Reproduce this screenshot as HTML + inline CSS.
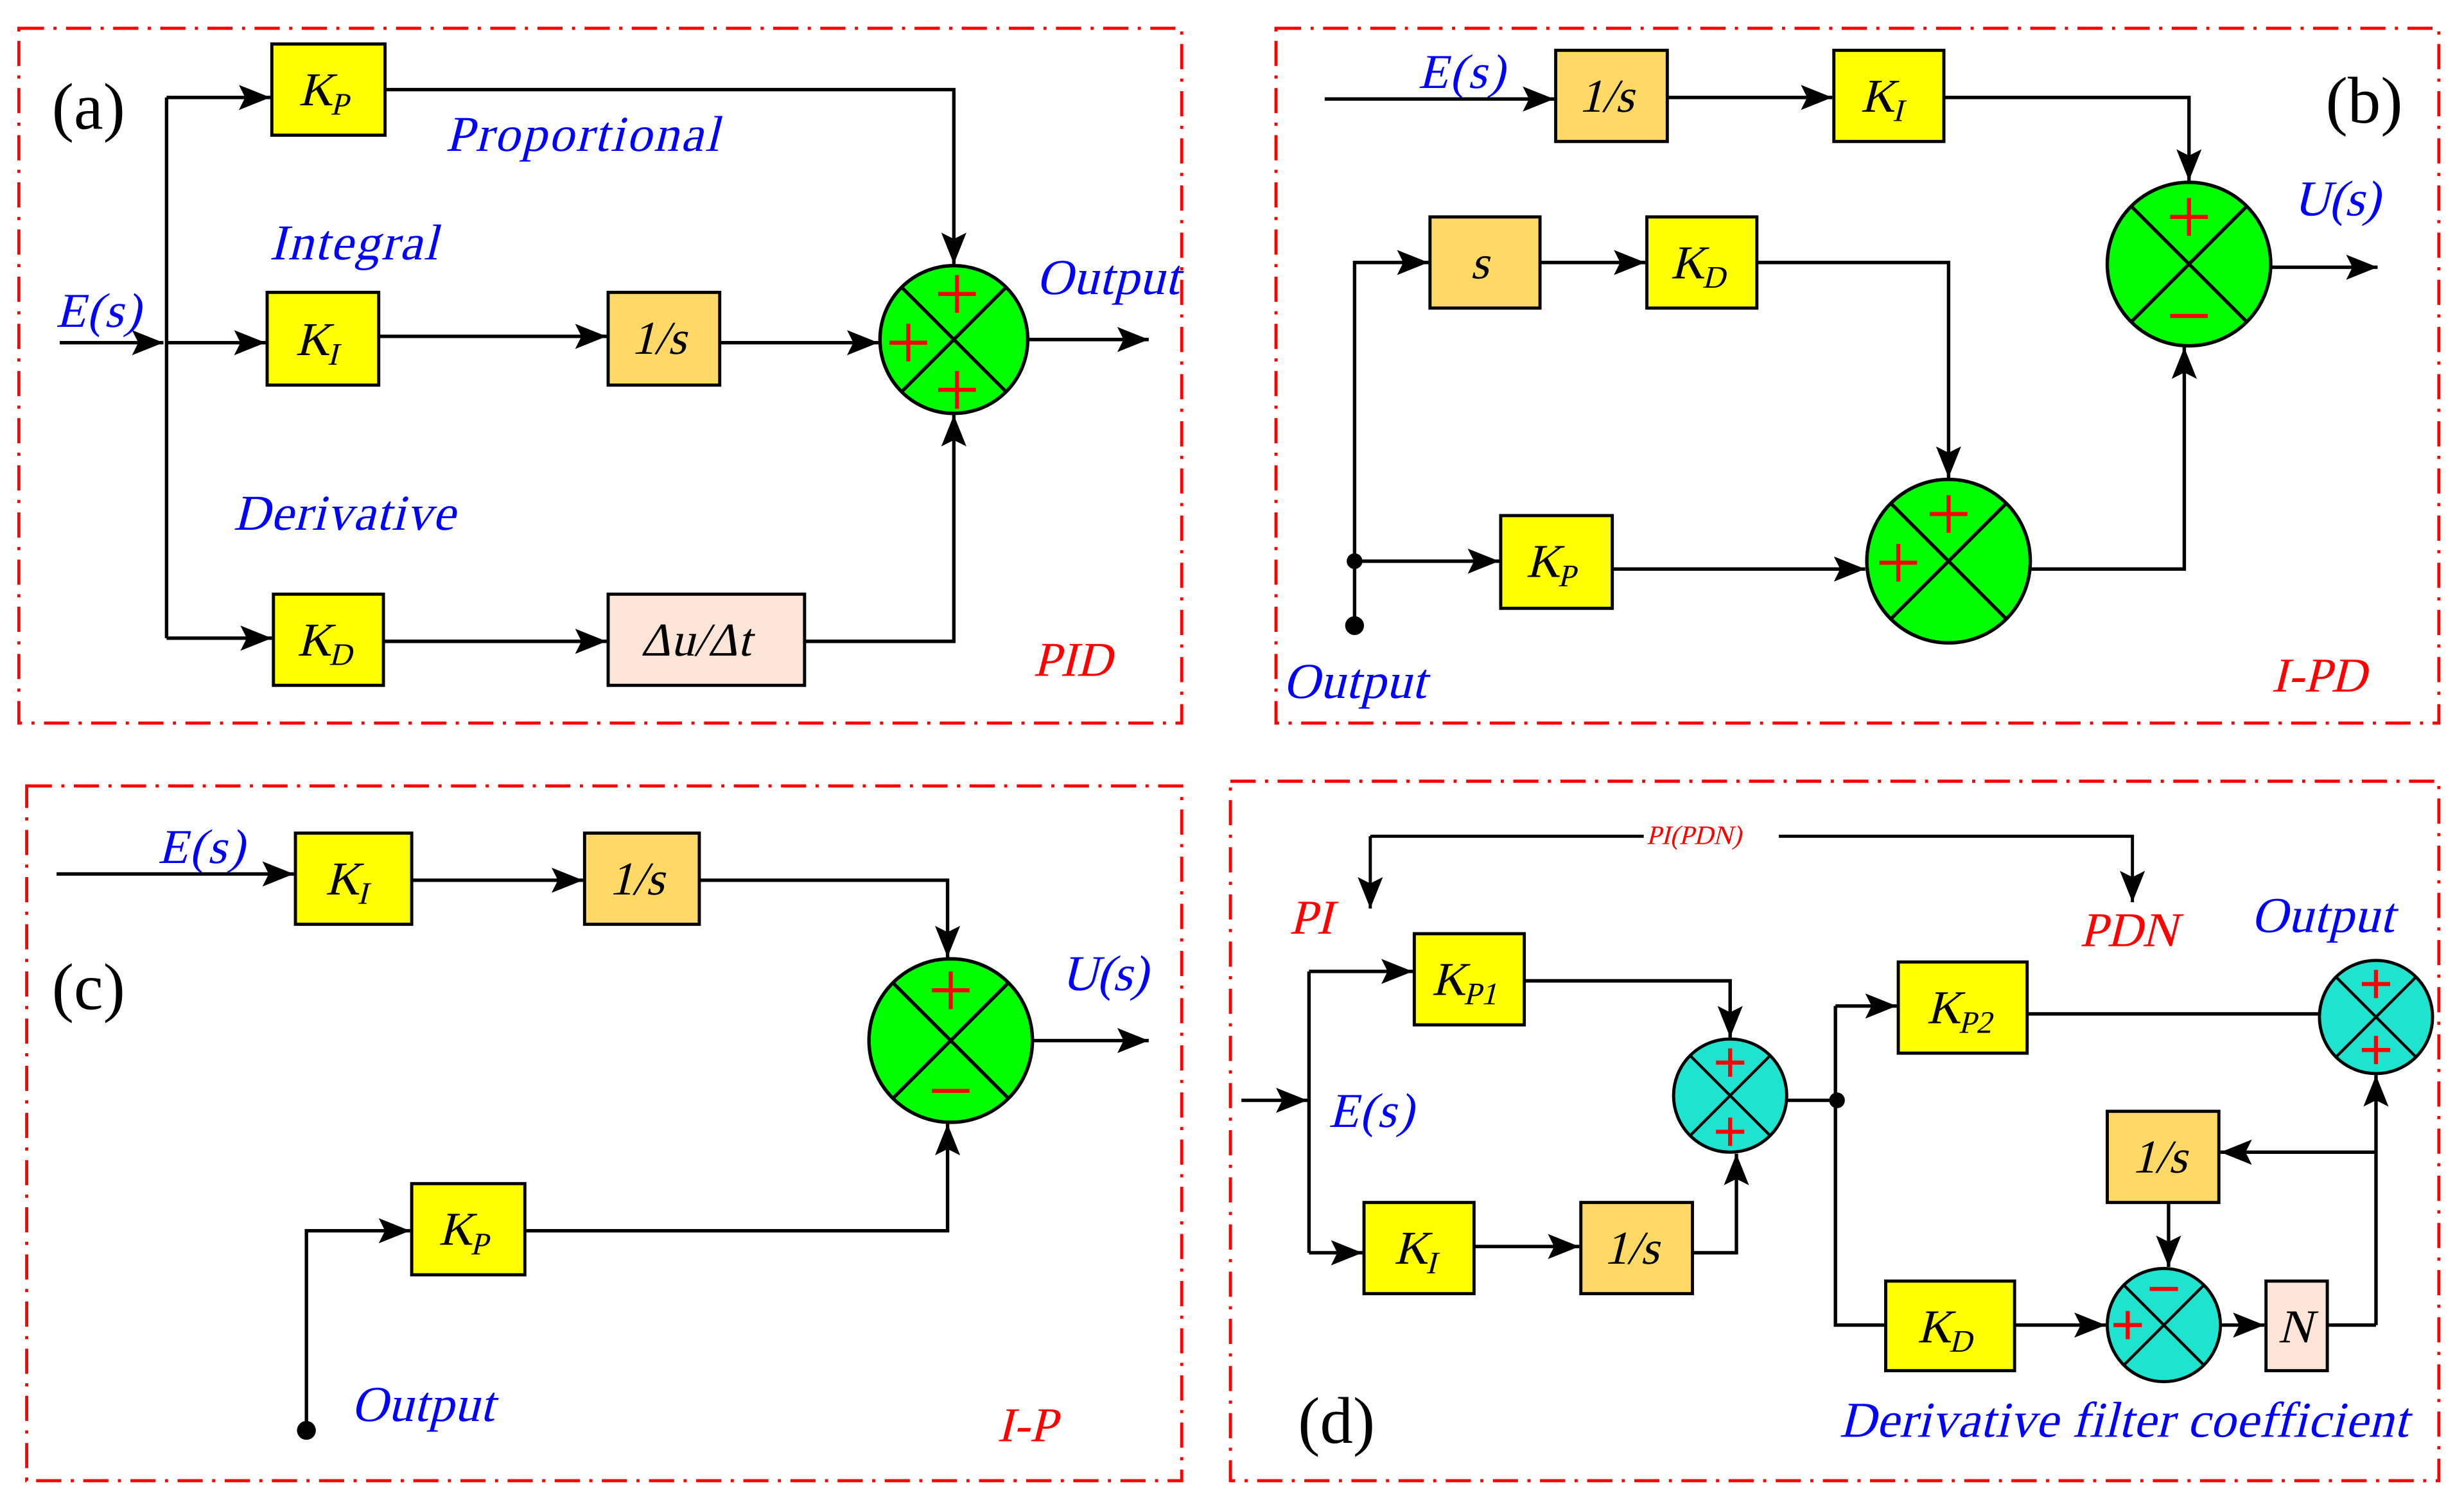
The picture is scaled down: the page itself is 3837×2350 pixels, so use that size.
<!DOCTYPE html>
<html><head><meta charset="utf-8"><style>
html,body{margin:0;padding:0;background:#fff}
svg{display:block}
text{font-family:"Liberation Serif","DejaVu Serif",serif;font-style:normal;transform-box:fill-box;transform-origin:center;transform:skewX(-14deg)}
text.n{transform:none}
.b{fill:#0000ff}.r{fill:#ff0000}
.l{stroke:#000;stroke-width:2.2;fill:none}
.bx{stroke:#000;stroke-width:2;}
.y{fill:#ffff00}.o{fill:#ffd966}.p{fill:#fce4d6}
.fr{fill:none;stroke:#ff0000;stroke-width:2;stroke-dasharray:16 6 2 6}
.g{fill:#00ff00;stroke:#000;stroke-width:2.2}
.c{fill:#1de3cf;stroke:#000;stroke-width:2}
.pm{stroke:#ff0000;stroke-width:2.6}
</style></head><body>
<svg width="3837" height="2350" viewBox="0 0 1568 960" preserveAspectRatio="none" xmlns="http://www.w3.org/2000/svg">
<defs>
<marker id="a" markerUnits="userSpaceOnUse" markerWidth="22" markerHeight="20" refX="20" refY="10" orient="auto">
<path d="M0,2 L20,10 L0,18 L4,10 z" fill="#000"/></marker>
</defs>
<rect width="1568" height="960" fill="#fff"/>
<rect class="fr" x="12" y="18" width="740" height="442"/>
<rect class="fr" x="812" y="18" width="740" height="442"/>
<rect class="fr" x="17" y="500" width="735" height="442"/>
<rect class="fr" x="783" y="497" width="769" height="445"/>

<!-- Panel (a) -->
<text class="n" x="33" y="82" font-size="42">(a)</text>
<path class="l" d="M38,218 L104,218" marker-end="url(#a)"/>
<path class="l" d="M106,62 L106,406"/>
<path class="l" d="M106,62 L172,62" marker-end="url(#a)"/>
<path class="l" d="M106,218 L169,218" marker-end="url(#a)"/>
<path class="l" d="M106,406 L173,406" marker-end="url(#a)"/>
<rect class="bx y" x="173" y="28" width="72" height="58"/>
<text x="192" y="67" font-size="30">K<tspan font-size="20" dy="6">P</tspan></text>
<rect class="bx y" x="170" y="186" width="71" height="59"/>
<text x="190" y="226" font-size="30">K<tspan font-size="20" dy="6">I</tspan></text>
<rect class="bx o" x="387" y="186" width="71" height="59"/>
<text x="404" y="225" font-size="30">1/s</text>
<rect class="bx y" x="174" y="378" width="70" height="58"/>
<text x="191" y="417" font-size="30">K<tspan font-size="20" dy="6">D</tspan></text>
<rect class="bx p" x="387" y="378" width="125" height="58"/>
<text x="410" y="417" font-size="30">Δu/Δt</text>
<path class="l" d="M241,214 L386,214" marker-end="url(#a)"/>
<path class="l" d="M458,218 L559,218" marker-end="url(#a)"/>
<path class="l" d="M244,408 L386,408" marker-end="url(#a)"/>
<path class="l" d="M245,57 L607,57 L607,168" marker-end="url(#a)"/>
<path class="l" d="M512,408 L607,408 L607,264" marker-end="url(#a)"/>
<circle class="g" cx="607" cy="216" r="47"/>
<path class="l" d="M574,183 L640,249 M640,183 L574,249"/>
<path class="pm" d="M597,187 h24 M609,175 v24 M566,218 h24 M578,206 v24 M597,248 h24 M609,236 v24"/>
<path class="l" d="M654,216 L731,216" marker-end="url(#a)"/>
<text x="38" y="208" font-size="31" class="b" textLength="54">E(s)</text>
<text x="286" y="96" font-size="32" class="b" textLength="174">Proportional</text>
<text x="174" y="165" font-size="32" class="b" textLength="107">Integral</text>
<text x="151" y="337" font-size="32" class="b" textLength="141">Derivative</text>
<text x="662" y="187" font-size="32" class="b" textLength="91">Output</text>
<text x="660" y="430" font-size="31" class="r">PID</text>

<!-- Panel (b) -->
<text class="n" x="1480" y="78" font-size="42">(b)</text>
<text x="905" y="56" font-size="31" class="b" textLength="55">E(s)</text>
<path class="l" d="M843,63 L989,63" marker-end="url(#a)"/>
<rect class="bx o" x="990" y="32" width="71" height="58"/>
<text x="1007" y="71" font-size="30">1/s</text>
<path class="l" d="M1061,62 L1166,62" marker-end="url(#a)"/>
<rect class="bx y" x="1167" y="32" width="70" height="58"/>
<text x="1186" y="71" font-size="30">K<tspan font-size="20" dy="6">I</tspan></text>
<path class="l" d="M1237,62 L1393,62 L1393,115" marker-end="url(#a)"/>
<circle class="g" cx="1393" cy="168" r="52"/>
<path class="l" d="M1356,131 L1430,205 M1430,131 L1356,205"/>
<path class="pm" d="M1381,138 h24 M1393,126 v24 M1381,201 h24"/>
<path class="l" d="M1445,170 L1513,170" marker-end="url(#a)"/>
<text x="1462" y="137" font-size="32" class="b" textLength="55">U(s)</text>
<rect class="bx o" x="910" y="138" width="70" height="58"/>
<text x="938" y="177" font-size="30">s</text>
<path class="l" d="M980,167 L1047,167" marker-end="url(#a)"/>
<rect class="bx y" x="1048" y="138" width="70" height="58"/>
<text x="1065" y="177" font-size="30">K<tspan font-size="20" dy="6">D</tspan></text>
<path class="l" d="M1118,167 L1240,167 L1240,304" marker-end="url(#a)"/>
<path class="l" d="M862,398 L862,167 L909,167" marker-end="url(#a)"/>
<circle cx="862" cy="357" r="5" fill="#000"/>
<circle cx="862" cy="398" r="6" fill="#000"/>
<path class="l" d="M862,357 L954,357" marker-end="url(#a)"/>
<rect class="bx y" x="955" y="328" width="71" height="59"/>
<text x="973" y="367" font-size="30">K<tspan font-size="20" dy="6">P</tspan></text>
<path class="l" d="M1026,362 L1187,362" marker-end="url(#a)"/>
<circle class="g" cx="1240" cy="357" r="52"/>
<path class="l" d="M1203,320 L1277,394 M1277,320 L1203,394"/>
<path class="pm" d="M1228,327 h24 M1240,315 v24 M1196,358 h24 M1208,346 v24"/>
<path class="l" d="M1292,362 L1390,362 L1390,221" marker-end="url(#a)"/>
<text x="819" y="444" font-size="32" class="b" textLength="91">Output</text>
<text x="1448" y="440" font-size="31" class="r">I-PD</text>

<!-- Panel (c) -->
<text class="n" x="33" y="642" font-size="42">(c)</text>
<text x="103" y="549" font-size="31" class="b" textLength="55">E(s)</text>
<path class="l" d="M36,556 L187,556" marker-end="url(#a)"/>
<rect class="bx y" x="188" y="530" width="74" height="58"/>
<text x="209" y="569" font-size="30">K<tspan font-size="20" dy="6">I</tspan></text>
<path class="l" d="M262,560 L371,560" marker-end="url(#a)"/>
<rect class="bx o" x="372" y="530" width="73" height="58"/>
<text x="390" y="569" font-size="30">1/s</text>
<path class="l" d="M445,560 L603,560 L603,609" marker-end="url(#a)"/>
<circle class="g" cx="605" cy="662" r="52"/>
<path class="l" d="M568,625 L642,699 M642,625 L568,699"/>
<path class="pm" d="M593,630 h24 M605,618 v24 M593,694 h24"/>
<path class="l" d="M658,662 L731,662" marker-end="url(#a)"/>
<text x="678" y="630" font-size="32" class="b" textLength="55">U(s)</text>
<rect class="bx y" x="262" y="753" width="72" height="58"/>
<text x="281" y="792" font-size="30">K<tspan font-size="20" dy="6">P</tspan></text>
<path class="l" d="M195,910 L195,783 L261,783" marker-end="url(#a)"/>
<circle cx="195" cy="910" r="6" fill="#000"/>
<path class="l" d="M334,783 L603,783 L603,715" marker-end="url(#a)"/>
<text x="226" y="904" font-size="32" class="b" textLength="91">Output</text>
<text x="637" y="917" font-size="31" class="r">I-P</text>

<!-- Panel (d) -->
<text class="n" x="826" y="918" font-size="42">(d)</text>
<path class="l" d="M872,532 L872,578" marker-end="url(#a)" style="stroke-width:2"/>
<path class="l" d="M872,532 L1357,532 L1357,574" marker-end="url(#a)" style="stroke-width:2"/>
<rect x="1046" y="522" width="86" height="18" fill="#fff"/>
<text x="1049" y="537" font-size="17" class="r">PI(PDN)</text>
<text x="823" y="594" font-size="31" class="r">PI</text>
<text x="1326" y="602" font-size="31" class="r">PDN</text>
<text x="1435" y="593" font-size="32" class="b" textLength="91">Output</text>
<text x="848" y="717" font-size="31" class="b" textLength="54">E(s)</text>
<path class="l" d="M790,700 L832,700" marker-end="url(#a)"/>
<path class="l" d="M833,618 L833,797"/>
<path class="l" d="M833,618 L899,618" marker-end="url(#a)"/>
<path class="l" d="M833,797 L867,797" marker-end="url(#a)"/>
<rect class="bx y" x="900" y="594" width="70" height="58"/>
<text x="913" y="633" font-size="30">K<tspan font-size="20" dy="6">P1</tspan></text>
<rect class="bx y" x="868" y="765" width="70" height="58"/>
<text x="889" y="804" font-size="30">K<tspan font-size="20" dy="6">I</tspan></text>
<path class="l" d="M938,793 L1005,793" marker-end="url(#a)"/>
<rect class="bx o" x="1006" y="765" width="71" height="58"/>
<text x="1023" y="804" font-size="30">1/s</text>
<path class="l" d="M970,624 L1101,624 L1101,660" marker-end="url(#a)"/>
<path class="l" d="M1077,797 L1105,797 L1105,734" marker-end="url(#a)"/>
<circle class="c" cx="1101" cy="697" r="36"/>
<path class="l" d="M1076,672 L1126,722 M1126,672 L1076,722" style="stroke-width:1.8"/>
<path class="pm" d="M1092,676 h18 M1101,667 v18 M1092,720 h18 M1101,711 v18"/>
<path class="l" d="M1137,700 L1168,700"/>
<circle cx="1169" cy="700" r="5" fill="#000"/>
<path class="l" d="M1168,640 L1168,843 L1199,843"/>
<path class="l" d="M1168,640 L1207,640" marker-end="url(#a)"/>
<rect class="bx y" x="1208" y="612" width="82" height="58"/>
<text x="1228" y="651" font-size="30">K<tspan font-size="20" dy="6">P2</tspan></text>
<path class="l" d="M1290,645 L1476,645"/>
<circle class="c" cx="1512" cy="647" r="36"/>
<path class="l" d="M1487,622 L1537,672 M1537,622 L1487,672" style="stroke-width:1.8"/>
<path class="pm" d="M1503,626 h18 M1512,617 v18 M1503,668 h18 M1512,659 v18"/>
<path class="l" d="M1512,843 L1512,684" marker-end="url(#a)"/>
<rect class="bx y" x="1200" y="815" width="82" height="57"/>
<text x="1222" y="854" font-size="30">K<tspan font-size="20" dy="6">D</tspan></text>
<path class="l" d="M1282,843 L1340,843" marker-end="url(#a)"/>
<circle class="c" cx="1377" cy="843" r="36"/>
<path class="l" d="M1352,818 L1402,868 M1402,818 L1352,868" style="stroke-width:1.8"/>
<path class="pm" d="M1368,820 h18 M1345,843 h18 M1354,834 v18"/>
<rect class="bx o" x="1341" y="707" width="71" height="58"/>
<text x="1359" y="746" font-size="30">1/s</text>
<path class="l" d="M1512,733 L1413,733" marker-end="url(#a)"/>
<path class="l" d="M1380,765 L1380,806" marker-end="url(#a)"/>
<path class="l" d="M1413,843 L1441,843" marker-end="url(#a)"/>
<rect class="bx p" x="1442" y="815" width="39" height="57"/>
<text x="1452" y="854" font-size="30">N</text>
<path class="l" d="M1481,843 L1512,843"/>
<text x="1173" y="914" font-size="32" class="b" textLength="362">Derivative filter coefficient</text>
</svg>
</body></html>
